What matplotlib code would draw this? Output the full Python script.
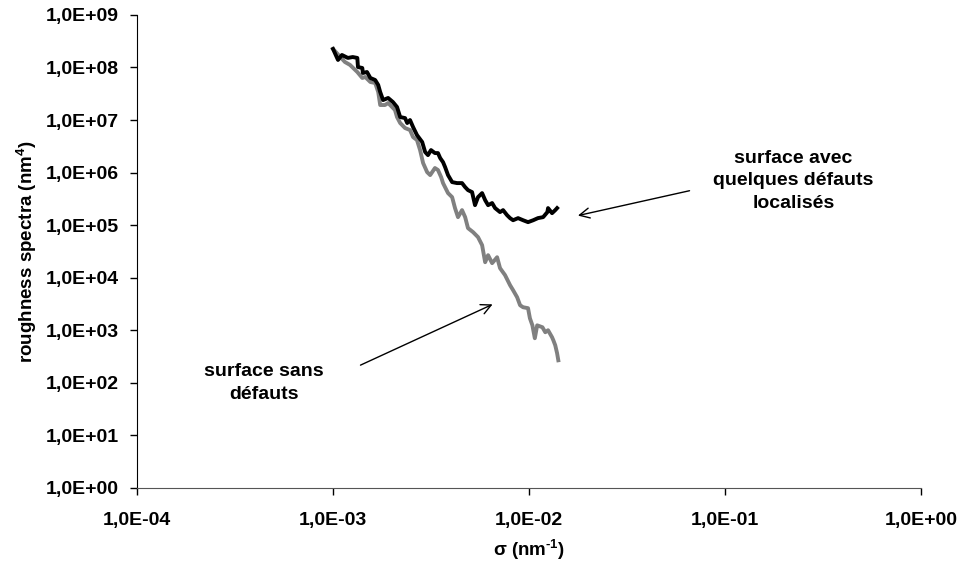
import matplotlib
matplotlib.use("Agg")
import matplotlib.pyplot as plt
from matplotlib.ticker import FixedLocator, FixedFormatter

plt.rcParams["font.family"] = ["Liberation Sans", "DejaVu Sans"]
plt.rcParams["font.weight"] = "bold"
plt.rcParams["mathtext.fontset"] = "custom"
plt.rcParams["mathtext.rm"] = "Liberation Sans:bold"
plt.rcParams["mathtext.bf"] = "Liberation Sans:bold"
plt.rcParams["mathtext.default"] = "bf"

# surface avec quelques défauts localisés (black)
sigma_def = [1.00e-3, 1.06e-3, 1.11e-3, 1.19e-3, 1.26e-3, 1.33e-3, 1.34e-3,
             1.41e-3, 1.42e-3, 1.49e-3, 1.55e-3, 1.64e-3, 1.70e-3, 1.74e-3,
             1.80e-3, 1.91e-3, 2.02e-3, 2.12e-3, 2.20e-3, 2.33e-3, 2.39e-3,
             2.47e-3, 2.56e-3, 2.68e-3, 2.85e-3, 2.95e-3, 3.05e-3, 3.16e-3,
             3.31e-3, 3.43e-3, 3.52e-3, 3.64e-3, 3.73e-3, 3.86e-3, 4.05e-3,
             4.29e-3, 4.55e-3, 4.72e-3, 4.88e-3, 5.12e-3, 5.30e-3, 5.49e-3,
             5.76e-3, 5.97e-3, 6.18e-3, 6.48e-3, 6.71e-3, 7.11e-3, 7.37e-3,
             7.72e-3, 8.00e-3, 8.29e-3, 8.79e-3, 9.32e-3, 9.88e-3, 1.05e-2,
             1.11e-2, 1.18e-2, 1.24e-2, 1.25e-2, 1.31e-2, 1.36e-2, 1.39e-2]
spec_def = [2.25e8, 1.39e8, 1.73e8, 1.52e8, 1.58e8, 1.52e8, 1.02e8,
            9.78e7, 7.86e7, 8.20e7, 6.31e7, 5.78e7, 4.64e7, 3.41e7,
            2.40e7, 2.63e7, 2.20e7, 1.77e7, 1.14e7, 1.09e7, 8.77e6,
            1.00e7, 7.36e6, 5.18e6, 3.81e6, 2.46e6, 2.15e6, 2.68e6,
            2.35e6, 2.35e6, 1.89e6, 1.58e6, 1.27e6, 8.96e5, 6.59e5,
            6.31e5, 6.31e5, 5.29e5, 4.64e5, 4.25e5, 2.40e5, 3.41e5,
            4.07e5, 2.99e5, 2.40e5, 2.63e5, 2.11e5, 1.77e5, 1.93e5,
            1.55e5, 1.36e5, 1.24e5, 1.36e5, 1.24e5, 1.14e5, 1.24e5,
            1.36e5, 1.42e5, 1.77e5, 2.11e5, 1.69e5, 1.93e5, 2.11e5]

# surface sans défauts (gray)
sigma_ok = [1.00e-3, 1.09e-3, 1.15e-3, 1.22e-3, 1.33e-3, 1.41e-3, 1.46e-3,
            1.55e-3, 1.64e-3, 1.70e-3, 1.74e-3, 1.84e-3, 1.91e-3, 2.00e-3,
            2.07e-3, 2.12e-3, 2.20e-3, 2.33e-3, 2.47e-3, 2.56e-3, 2.68e-3,
            2.78e-3, 2.88e-3, 3.02e-3, 3.13e-3, 3.31e-3, 3.43e-3, 3.56e-3,
            3.64e-3, 3.86e-3, 4.05e-3, 4.19e-3, 4.34e-3, 4.55e-3, 4.72e-3,
            4.88e-3, 5.18e-3, 5.49e-3, 5.76e-3, 5.97e-3, 6.18e-3, 6.48e-3,
            6.87e-3, 7.11e-3, 7.54e-3, 8.00e-3, 8.29e-3, 8.69e-3, 9.00e-3,
            9.32e-3, 9.88e-3, 1.01e-2, 1.04e-2, 1.07e-2, 1.10e-2, 1.17e-2,
            1.21e-2, 1.25e-2, 1.31e-2, 1.33e-2, 1.36e-2, 1.39e-2, 1.41e-2]
spec_ok = [2.25e8, 1.58e8, 1.27e8, 1.12e8, 8.20e7, 6.31e7, 6.59e7,
           5.29e7, 5.07e7, 3.41e7, 1.93e7, 1.93e7, 2.11e7, 1.77e7,
           1.55e7, 1.14e7, 8.77e6, 7.04e6, 6.45e6, 4.74e6, 4.16e6,
           2.68e6, 1.52e6, 1.02e6, 8.96e5, 1.22e6, 1.12e6, 8.20e5,
           6.31e5, 4.07e5, 3.41e5, 2.11e5, 1.42e5, 1.93e5, 1.42e5,
           8.77e4, 7.36e4, 5.91e4, 4.16e4, 1.97e4, 2.68e4, 1.89e4,
           2.45e4, 1.52e4, 1.12e4, 7.20e3, 5.78e3, 4.25e3, 2.99e3,
           2.74e3, 2.63e3, 1.69e3, 1.24e3, 7.04e2, 1.24e3, 1.14e3,
           9.16e2, 1.00e3, 7.36e2, 6.45e2, 5.18e2, 3.65e2, 2.68e2]

x_ticks = [1e-4, 1e-3, 1e-2, 1e-1, 1e0]
x_labels = ["1,0E-04", "1,0E-03", "1,0E-02", "1,0E-01", "1,0E+00"]
y_ticks = [10.0 ** k for k in range(0, 10)]
y_labels = ["1,0E+%02d" % k for k in range(0, 10)]

fig = plt.figure(figsize=(9.65, 5.74), dpi=100)
ax = fig.add_axes([0.142, 0.150, 0.8125, 0.824])

ax.plot(sigma_ok, spec_ok, color="#808080", lw=2.8, solid_joinstyle="round")
ax.plot(sigma_def, spec_def, color="black", lw=2.8, solid_joinstyle="round")

ax.set_xscale("log")
ax.set_yscale("log")
ax.set_xlim(1e-4, 1e0)
ax.set_ylim(1e0, 1e9)
ax.xaxis.set_major_locator(FixedLocator(x_ticks))
ax.xaxis.set_major_formatter(FixedFormatter(x_labels))
ax.yaxis.set_major_locator(FixedLocator(y_ticks))
ax.yaxis.set_major_formatter(FixedFormatter(y_labels))
ax.minorticks_off()

for s in ["top", "right"]:
    ax.spines[s].set_visible(False)
ax.spines["left"].set_color("black")
ax.spines["bottom"].set_color("#555555")
ax.tick_params(axis="both", direction="out", length=5, width=1, labelsize=14, pad=8)
ax.tick_params(axis="x", pad=12)

ax.set_xlabel("σ (nm$^{\\text{-1}}$)", fontsize=13.5, fontweight="bold", labelpad=7)
ax.set_ylabel("roughness spectra (nm$^{4}$)", fontsize=13.5, fontweight="bold", labelpad=5)

ax.annotate("", xy=(1.72e-2, 1.48e5), xytext=(6.8e-2, 4.64e5),
            arrowprops=dict(arrowstyle="->", color="black", lw=1, mutation_scale=18))
ax.text(0.837, 0.649, "surface avec\nquelques défauts\nlocalisés", transform=ax.transAxes,
        ha="center", va="center", fontsize=14, fontweight="bold", linespacing=1.45)

ax.annotate("", xy=(6.71e-3, 3.27e3), xytext=(1.34e-3, 2.06e2),
            arrowprops=dict(arrowstyle="->", color="black", lw=1, mutation_scale=18))
ax.text(0.162, 0.222, "surface sans\ndéfauts", transform=ax.transAxes,
        ha="center", va="center", fontsize=14, fontweight="bold", linespacing=1.45)

fig.savefig("out.png", dpi=100)
